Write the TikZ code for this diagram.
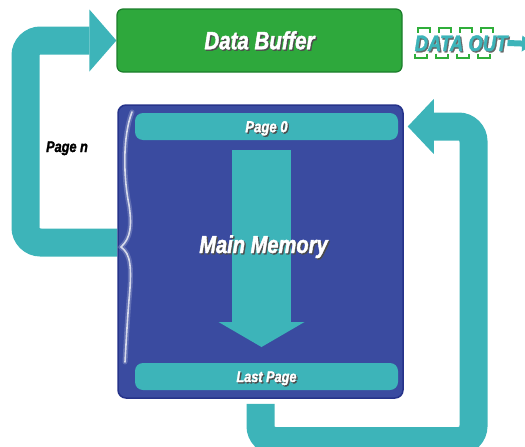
\documentclass[tikz,border=0pt]{standalone}
\usepackage{fontspec}
\newfontfamily\condfont[FakeStretch=0.82,FakeBold=1.6]{Liberation Sans}
\usetikzlibrary{arrows.meta,backgrounds}
\definecolor{teal1}{HTML}{3DB4B9}
\definecolor{memblue}{HTML}{3A4BA0}
\definecolor{memedge}{HTML}{26338A}
\definecolor{bufgreen}{HTML}{2EA83C}
\definecolor{bufedge}{HTML}{1B7D2B}
\definecolor{dashgreen}{HTML}{2FAE3A}
\newcommand\lf[1]{\condfont\bfseries\itshape\fontsize{#1}{#1}\selectfont}
\newcommand\shtext[2][black!70]{\rlap{\hspace{1.3pt}\raisebox{-1.3pt}{\textcolor{#1}{#2}}}#2}
\begin{document}
\begin{tikzpicture}[x=1pt,y=-1pt,
  band/.style={draw=teal1, line width=28pt, rounded corners=15pt},
  bar/.style={fill=teal1, rounded corners=8pt, minimum width=263pt, minimum height=27pt, inner sep=0pt, text=white, text depth=0pt},
  lbl/.style={inner sep=0pt, text depth=0pt},
  bracket/.style={draw=dashgreen, line width=1.8pt},
  gloss/.style={draw=white, line cap=round},
]
\clip (0,0) rectangle (525,447);

% boxes
\node[draw=bufedge, fill=bufgreen, line width=1.2pt, rounded corners=6pt,
      minimum width=285pt, minimum height=63pt, inner sep=0pt,
      font=\lf{25}, text=white, text height=17.5pt, text depth=0pt] (buffer) at (259.5,40.5) {\shtext{Data Buffer}};
\node[draw=memedge, fill=memblue, line width=1.5pt, rounded corners=8pt,
      minimum width=285pt, minimum height=293pt] (memory) at (260.5,251.5) {};

% gloss highlight on memory box
\draw[gloss, line width=5pt, opacity=0.2]
  (132,112) .. controls (123,135) and (123,175) .. (129,205)
  .. controls (132,225) and (131,238) .. (121,247)
  .. controls (131,254) and (132,268) .. (129,300)
  .. controls (127,325) and (126,345) .. (125,362);
\draw[gloss, line width=1.6pt, opacity=0.75]
  (132,112) .. controls (123,135) and (123,175) .. (129,205)
  .. controls (132,225) and (131,238) .. (121,247)
  .. controls (131,254) and (132,268) .. (129,300)
  .. controls (127,325) and (126,345) .. (125,362);

\node[bar, font=\lf{16}, text height=11.5pt] (page0) at (266.5,126.5) {\shtext{Page 0}};
\node[bar, font=\lf{15.5}, text height=11pt] (lastpage) at (266.5,376.5) {\shtext{Last Page}};

% down arrow
\coordinate (downtop) at (261.5,150);
\coordinate (downtip) at (261.5,347);
\draw[draw=teal1, line width=59pt, -{Triangle[length=25pt,width=86pt,line width=0pt]}] (downtop) -- (downtip);

\node[lbl, font=\lf{24.5}, text=white, text height=16pt] (mainlbl) at (263.5,245) {\shtext{Main Memory}};

\node[lbl, font=\lf{15.5}, text=black, anchor=base] (pagen) at (67,152) {Page n};

% data out
\node[lbl, font=\lf{22.5}, text=teal1, text height=16pt] (dataout) at (461,43) {\shtext[black!60]{DATA OUT}};
\foreach \bx in {418,439,460,481} {
  \draw[bracket] (\bx,32.5) |- (\bx+12,28) -- (\bx+12,32.5);
  \draw[bracket] (\bx-3,53.5) |- (\bx+9,58) -- (\bx+9,53.5);
}
\draw[draw=teal1, line width=6pt, -{Triangle[length=12pt,width=16pt,line width=0pt]}] (dataout.east) -- (534,44);

% loops
\begin{pgfonlayer}{background}
\draw[band, -{Triangle[length=27pt,width=62pt,line width=0pt]}]
  ([yshift=9pt]memory.west) -- (25.5,242.5) -- (25.5,40.5) -- (buffer.west);
\draw[band, -{Triangle[length=26pt,width=55pt,line width=0pt]}]
  ([yshift=-5pt]memory.south) |- (473.5,441) |- ([xshift=4pt]memory.east |- page0.east);
\end{pgfonlayer}
\end{tikzpicture}
\end{document}
